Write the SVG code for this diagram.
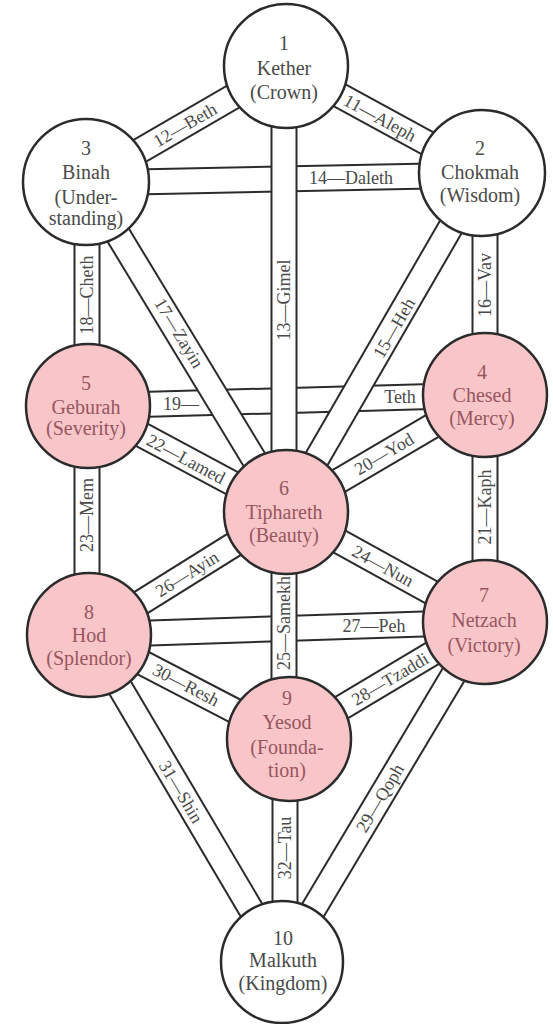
<svg xmlns="http://www.w3.org/2000/svg" width="553" height="1024" viewBox="0 0 553 1024">
<style>
.edge{stroke:#2b2b2b;stroke-width:27;fill:none}
.core{stroke:#ffffff;stroke-width:23;fill:none}
.lbl{font-family:"Liberation Serif",serif;font-size:18px;fill:#4a4a4a;text-anchor:middle}
.node circle{stroke:#2b2b2b;stroke-width:2.5}
.white circle{fill:#ffffff}
.pink circle{fill:#f8c6c9}
.node text{font-family:"Liberation Serif",serif;font-size:20px;text-anchor:middle}
.white text{fill:#4a4a4a}
.pink text{fill:#985560}
</style>
<rect width="553" height="1024" fill="#ffffff"/>
<g id="connectors">
  <g id="path-14"><line class="edge" x1="86" y1="183" x2="482" y2="175"/><line class="core" x1="86" y1="183" x2="482" y2="175"/></g>
  <g id="path-19"><line class="edge" x1="88" y1="406" x2="485" y2="395"/><line class="core" x1="88" y1="406" x2="485" y2="395"/></g>
  <g id="path-27"><line class="edge" x1="89" y1="635" x2="485" y2="622"/><line class="core" x1="89" y1="635" x2="485" y2="622"/></g>
  <g id="path-11"><line class="edge" x1="286" y1="66" x2="482" y2="173"/><line class="core" x1="286" y1="66" x2="482" y2="173"/></g>
  <g id="path-12"><line class="edge" x1="86" y1="182" x2="286" y2="66"/><line class="core" x1="86" y1="182" x2="286" y2="66"/></g>
  <g id="path-15"><line class="edge" x1="482" y1="173" x2="286" y2="512"/><line class="core" x1="482" y1="173" x2="286" y2="512"/></g>
  <g id="path-17"><line class="edge" x1="86" y1="182" x2="286" y2="512"/><line class="core" x1="86" y1="182" x2="286" y2="512"/></g>
  <g id="path-20"><line class="edge" x1="485" y1="395" x2="286" y2="512"/><line class="core" x1="485" y1="395" x2="286" y2="512"/></g>
  <g id="path-22"><line class="edge" x1="88" y1="406" x2="286" y2="512"/><line class="core" x1="88" y1="406" x2="286" y2="512"/></g>
  <g id="path-24"><line class="edge" x1="286" y1="512" x2="485" y2="622"/><line class="core" x1="286" y1="512" x2="485" y2="622"/></g>
  <g id="path-26"><line class="edge" x1="89" y1="635" x2="286" y2="512"/><line class="core" x1="89" y1="635" x2="286" y2="512"/></g>
  <g id="path-28"><line class="edge" x1="289" y1="739" x2="485" y2="622"/><line class="core" x1="289" y1="739" x2="485" y2="622"/></g>
  <g id="path-30"><line class="edge" x1="89" y1="635" x2="289" y2="739"/><line class="core" x1="89" y1="635" x2="289" y2="739"/></g>
  <g id="path-29"><line class="edge" x1="485" y1="622" x2="282" y2="962"/><line class="core" x1="485" y1="622" x2="282" y2="962"/></g>
  <g id="path-31"><line class="edge" x1="89" y1="635" x2="282" y2="962"/><line class="core" x1="89" y1="635" x2="282" y2="962"/></g>
  <g id="path-13"><line class="edge" x1="284" y1="66" x2="284" y2="512"/><line class="core" x1="284" y1="66" x2="284" y2="512"/></g>
  <g id="path-16"><line class="edge" x1="485" y1="173" x2="485" y2="395"/><line class="core" x1="485" y1="173" x2="485" y2="395"/></g>
  <g id="path-18"><line class="edge" x1="87" y1="182" x2="87" y2="406"/><line class="core" x1="87" y1="182" x2="87" y2="406"/></g>
  <g id="path-21"><line class="edge" x1="485" y1="395" x2="485" y2="622"/><line class="core" x1="485" y1="395" x2="485" y2="622"/></g>
  <g id="path-23"><line class="edge" x1="87" y1="406" x2="87" y2="635"/><line class="core" x1="87" y1="406" x2="87" y2="635"/></g>
  <g id="path-25"><line class="edge" x1="284" y1="512" x2="284" y2="739"/><line class="core" x1="284" y1="512" x2="284" y2="739"/></g>
  <g id="path-32"><line class="edge" x1="285" y1="739" x2="285" y2="962"/><line class="core" x1="285" y1="739" x2="285" y2="962"/></g>
  <g id="path-labels">
    <text class="lbl" transform="translate(380,118) rotate(28.6)" y="6">11—Aleph</text>
    <text class="lbl" transform="translate(185,125) rotate(-30.1)" y="6">12—Beth</text>
    <text class="lbl" transform="translate(284,300) rotate(-90)" y="6">13—Gimel</text>
    <text class="lbl" transform="translate(351,178)" y="6">14—Daleth</text>
    <text class="lbl" transform="translate(394,328) rotate(-60)" y="6">15—Heh</text>
    <text class="lbl" transform="translate(485,285) rotate(-90)" y="6">16—Vav</text>
    <text class="lbl" transform="translate(179,333) rotate(58.8)" y="6">17—Zayin</text>
    <text class="lbl" transform="translate(87,295) rotate(-90)" y="6">18—Cheth</text>
    <text class="lbl" transform="translate(181,404)" y="6">19—</text>
    <text class="lbl" transform="translate(400,397)" y="6">Teth</text>
    <text class="lbl" transform="translate(384,454) rotate(-30.5)" y="6">20—Yod</text>
    <text class="lbl" transform="translate(485,507) rotate(-90)" y="6">21—Kaph</text>
    <text class="lbl" transform="translate(186,459) rotate(28.2)" y="6">22—Lamed</text>
    <text class="lbl" transform="translate(87,515) rotate(-90)" y="6">23—Mem</text>
    <text class="lbl" transform="translate(383,566) rotate(28.9)" y="6">24—Nun</text>
    <text class="lbl" transform="translate(284,623) rotate(-90)" y="6">25—Samekh</text>
    <text class="lbl" transform="translate(187,574) rotate(-32)" y="6">26—Ayin</text>
    <text class="lbl" transform="translate(374,626)" y="6">27—Peh</text>
    <text class="lbl" transform="translate(390,679) rotate(-30.8)" y="6">28—Tzaddi</text>
    <text class="lbl" transform="translate(380,798) rotate(-59.2)" y="6">29—Qoph</text>
    <text class="lbl" transform="translate(186,685) rotate(27.5)" y="6">30—Resh</text>
    <text class="lbl" transform="translate(181,792) rotate(59.4)" y="6">31—Shin</text>
    <text class="lbl" transform="translate(285,848) rotate(-90)" y="6">32—Tau</text>
  </g>
</g>
<g id="node-1" class="node white"><circle cx="286" cy="66" r="62"/><text x="284" y="50">1</text><text x="284" y="75">Kether</text><text x="284" y="99">(Crown)</text></g>
<g id="node-2" class="node white"><circle cx="482" cy="173" r="63"/><text x="480" y="155">2</text><text x="480" y="179">Chokmah</text><text x="480" y="202">(Wisdom)</text></g>
<g id="node-3" class="node white"><circle cx="86" cy="182" r="63"/><text x="86" y="155">3</text><text x="86" y="179">Binah</text><text x="86" y="204">(Under-</text><text x="86" y="225">standing)</text></g>
<g id="node-4" class="node pink"><circle cx="485" cy="395" r="62"/><text x="482" y="379">4</text><text x="482" y="402">Chesed</text><text x="482" y="425">(Mercy)</text></g>
<g id="node-5" class="node pink"><circle cx="88" cy="406" r="62"/><text x="86" y="390">5</text><text x="86" y="414">Geburah</text><text x="86" y="435">(Severity)</text></g>
<g id="node-6" class="node pink"><circle cx="286" cy="512" r="62"/><text x="284" y="495">6</text><text x="284" y="519">Tiphareth</text><text x="284" y="542">(Beauty)</text></g>
<g id="node-7" class="node pink"><circle cx="485" cy="622" r="62"/><text x="484" y="602">7</text><text x="484" y="627">Netzach</text><text x="484" y="652">(Victory)</text></g>
<g id="node-8" class="node pink"><circle cx="89" cy="635" r="62"/><text x="89" y="619">8</text><text x="89" y="642">Hod</text><text x="89" y="665">(Splendor)</text></g>
<g id="node-9" class="node pink"><circle cx="289" cy="739" r="62"/><text x="287" y="705">9</text><text x="287" y="729">Yesod</text><text x="287" y="754">(Founda-</text><text x="287" y="777">tion)</text></g>
<g id="node-10" class="node white"><circle cx="282" cy="962" r="61"/><text x="283" y="945">10</text><text x="283" y="967">Malkuth</text><text x="283" y="990">(Kingdom)</text></g>
</svg>
